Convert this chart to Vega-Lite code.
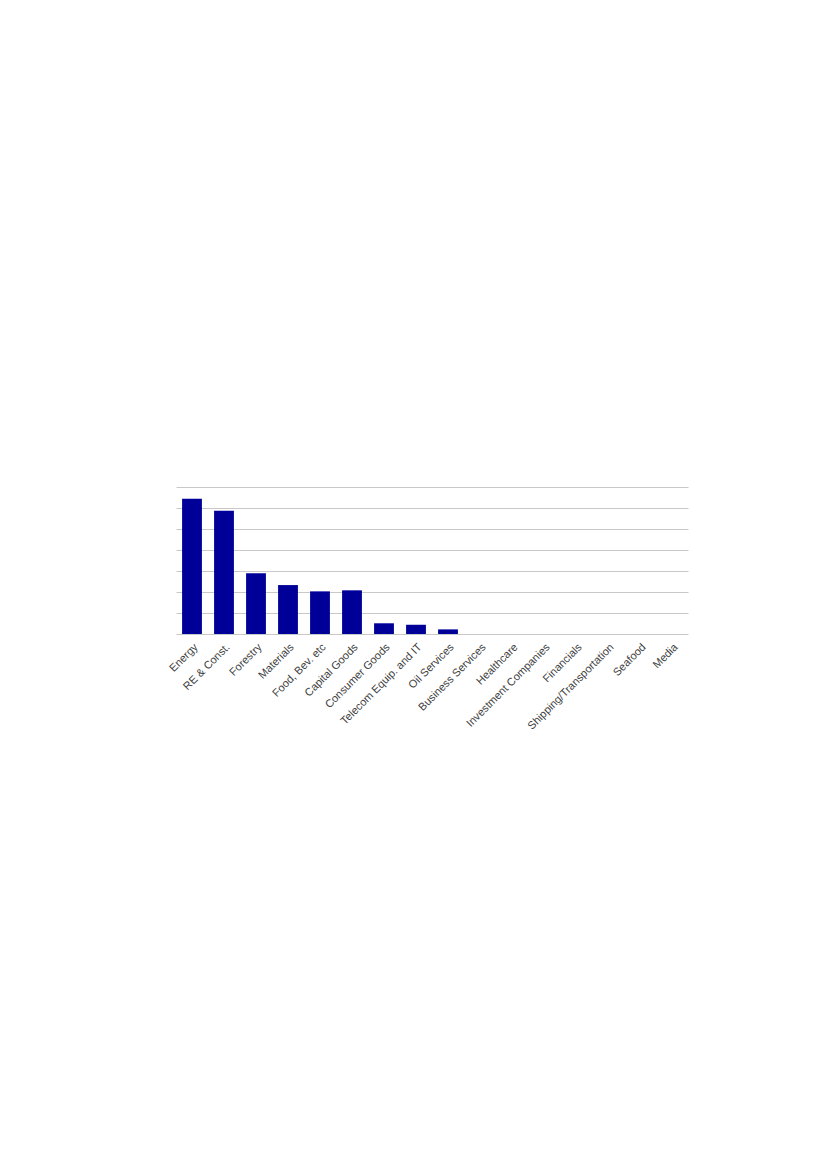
{
  "$schema": "https://vega.github.io/schema/vega-lite/v6.json",
  "autosize": "none",
  "width": 512,
  "height": 147,
  "padding": {"left": 176, "top": 487, "right": 139, "bottom": 535},
  "background": "white",
  "data": {
    "values": [
      {"sector": "Energy", "value": 6.44},
      {"sector": "RE & Const.", "value": 5.87},
      {"sector": "Forestry", "value": 2.89},
      {"sector": "Materials", "value": 2.33},
      {"sector": "Food, Bev. etc", "value": 2.03},
      {"sector": "Capital Goods", "value": 2.08},
      {"sector": "Consumer Goods", "value": 0.51},
      {"sector": "Telecom Equip. and IT", "value": 0.44},
      {"sector": "Oil Services", "value": 0.22},
      {"sector": "Business Services", "value": 0},
      {"sector": "Healthcare", "value": 0},
      {"sector": "Investment Companies", "value": 0},
      {"sector": "Financials", "value": 0},
      {"sector": "Shipping/Transportation", "value": 0},
      {"sector": "Seafood", "value": 0},
      {"sector": "Media", "value": 0}
    ]
  },
  "mark": {"type": "bar", "color": "#000099"},
  "encoding": {
    "x": {
      "field": "sector",
      "type": "nominal",
      "sort": null,
      "scale": {"paddingInner": 0.38, "paddingOuter": 0.19},
      "axis": {
        "title": null,
        "labelAngle": -45,
        "labelFont": "Liberation Sans",
        "labelFontSize": 11,
        "labelColor": "#404040",
        "labelPadding": 7,
        "ticks": false,
        "domain": false,
        "grid": false
      }
    },
    "y": {
      "field": "value",
      "type": "quantitative",
      "scale": {"domain": [0, 7], "nice": false},
      "axis": {
        "title": null,
        "labels": false,
        "ticks": false,
        "domain": false,
        "values": [0, 1, 2, 3, 4, 5, 6, 7],
        "gridColor": "#c8c8c8",
        "gridWidth": 1
      }
    }
  },
  "config": {"view": {"stroke": null}}
}
